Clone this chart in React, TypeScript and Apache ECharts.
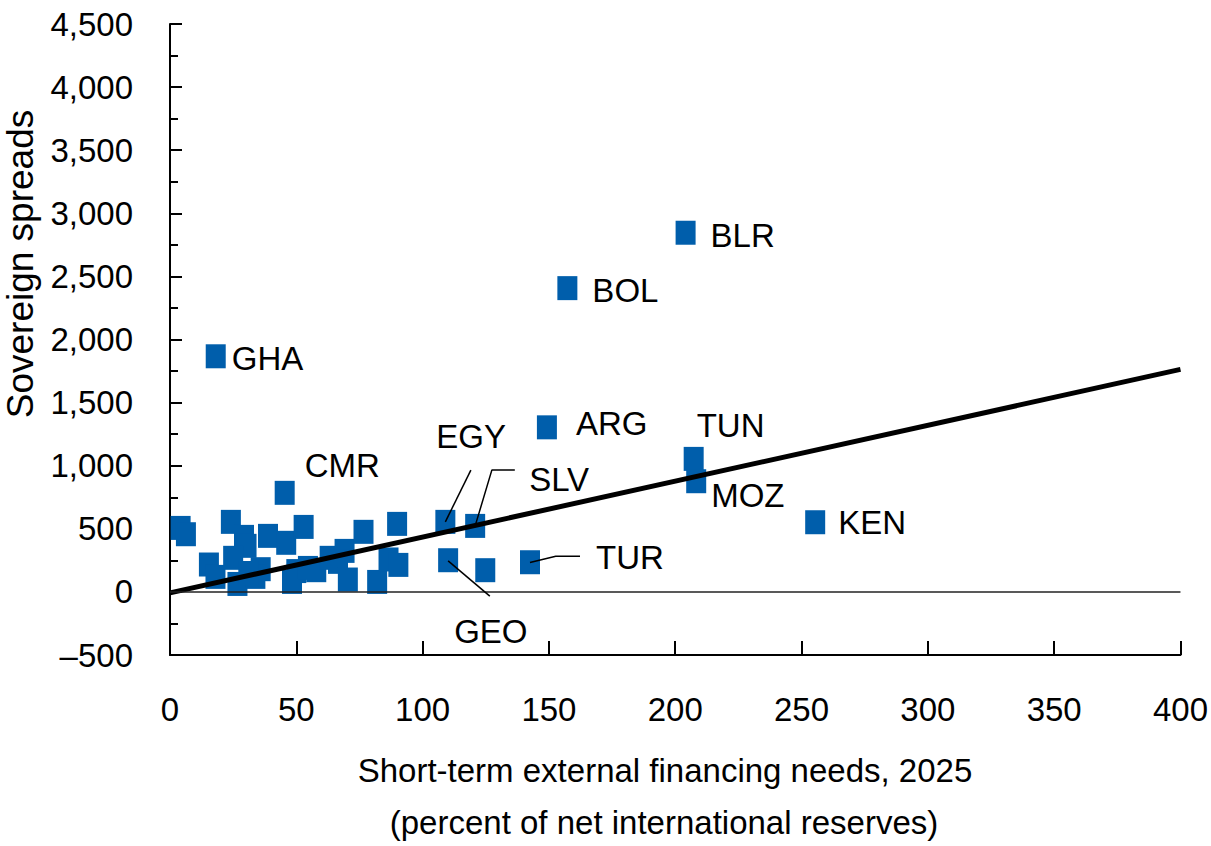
import React, { useEffect, useRef } from "react";
import * as echarts from "echarts";

// Labelled economies: code, short-term external financing needs (% of NIR), sovereign spread (bps)
const labeledCodes = ["BLR", "BOL", "GHA", "ARG", "TUN", "MOZ", "KEN", "CMR", "EGY", "SLV", "TUR", "GEO"];
const labeledNeeds = [204.1, 157.3, 18.1, 149.2, 207.3, 208.3, 255.4, 45.4, 109.0, 120.8, 142.5, 110.1];
const labeledSpreads = [2846, 2407, 1867, 1304, 1054, 877, 552, 785, 555, 523, 235, 251];

// Unlabelled economies
const otherNeeds = [4.2, 6.3, 24.1, 29.3, 30.3, 38.8, 46.0, 52.9, 15.4, 18.0, 25.0, 26.7, 35.9, 33.8, 31.0, 48.3, 50.0, 54.6, 57.9, 63.2, 69.1, 66.5, 70.4, 76.6, 82.0, 89.9, 86.5, 90.4, 124.8];
const otherSpreads = [507, 457, 555, 436, 365, 444, 389, 515, 217, 119, 270, 63, 180, 119, 150, 79, 165, 190, 172, 270, 325, 238, 98, 476, 79, 539, 257, 214, 172];

// Fitted line endpoints
const trendNeeds = [0, 400];
const trendSpreads = [-8, 1763];

// Leader lines (data coordinates)
const leaderEGY = [[109.0, 555], [119.1, 965]];
const leaderSLV = [[120.8, 523], [127.4, 965], [136.5, 965]];
const leaderGEO = [[110.1, 246], [126.6, -34]];
const leaderTUR = [[142.5, 233], [152.7, 283], [162.3, 283]];

const xTitle1 = "Short-term external financing needs, 2025";
const xTitle2 = "(percent of net international reserves)";
const yTitle = "Sovereign spreads";

// label placement (pixel offsets, style only)
const labelOffset: Record<string, [number, number]> = {
  BLR: [15, 3], BOL: [15, 2], GHA: [6, 2], ARG: [19, -4], TUN: [-7, -33], MOZ: [5, 14],
  KEN: [13, 0], CMR: [10, -27], EGY: [-19, -85], SLV: [44, -46], TUR: [56, -5], GEO: [-4, 71],
};

const FONT = "'Liberation Sans', Arial, sans-serif";
const FS = 33;
const BLUE = "#005EAB";

export default function App() {
  const ref = useRef<HTMLDivElement>(null);
  useEffect(() => {
    document.body.style.margin = "0";
    if (!ref.current) return;
    const chart = echarts.init(ref.current, undefined, { renderer: "svg" });
    const labeledData = labeledCodes.map((c, i) => ({
      value: [labeledNeeds[i], labeledSpreads[i]],
      name: c,
      label: {
        show: true,
        position: "right",
        distance: 0,
        offset: labelOffset[c],
        formatter: c,
        color: "#000",
        fontSize: FS,
        fontFamily: FONT,
      },
    }));
    const otherData = otherNeeds.map((x, i) => [x, otherSpreads[i]]);
    const leaderSeries = [leaderEGY, leaderSLV, leaderGEO, leaderTUR].map((d) => ({
      type: "line",
      data: d,
      symbol: "none",
      lineStyle: { color: "#000", width: 1.5 },
      z: 5,
      silent: true,
    }));
    chart.setOption({
      animation: false,
      backgroundColor: "#fff",
      grid: { left: 170, right: 28, top: 24, bottom: 191, containLabel: false },
      xAxis: {
        type: "value",
        min: 0,
        max: 400,
        interval: 50,
        axisLine: { show: true, onZero: false, lineStyle: { color: "#000", width: 2 } },
        axisTick: { show: true, inside: true, length: 14, lineStyle: { color: "#000", width: 2 } },
        splitLine: { show: false },
        axisLabel: { color: "#000", fontSize: FS, fontFamily: FONT, margin: 38 },
      },
      yAxis: {
        type: "value",
        min: -500,
        max: 4500,
        interval: 500,
        axisLine: { show: true, onZero: false, lineStyle: { color: "#000", width: 2 } },
        axisTick: { show: true, inside: true, length: 12, lineStyle: { color: "#000", width: 2 } },
        minorTick: { show: true, splitNumber: 2, length: 8, lineStyle: { color: "#000", width: 2 } },
        splitLine: { show: false },
        axisLabel: {
          color: "#000",
          fontSize: FS,
          fontFamily: FONT,
          margin: 37,
          formatter: (v: number) => (v < 0 ? "\u2013" : "") + Math.abs(v).toLocaleString("en-US"),
        },
      },
      graphic: [
        {
          type: "text",
          x: 20,
          y: 264,
          rotation: Math.PI / 2,
          style: { text: yTitle, fontSize: 37, fontFamily: FONT, fill: "#000", align: "center", verticalAlign: "middle" },
        },
        {
          type: "text",
          x: 665,
          y: 770,
          style: { text: xTitle1, fontSize: FS, fontFamily: FONT, fill: "#000", align: "center", verticalAlign: "middle" },
        },
        {
          type: "text",
          x: 664,
          y: 822,
          style: { text: xTitle2, fontSize: FS, fontFamily: FONT, fill: "#000", align: "center", verticalAlign: "middle" },
        },
      ],
      series: [
        {
          type: "scatter",
          data: otherData,
          symbol: "rect",
          symbolSize: [20, 24],
          itemStyle: { color: BLUE, opacity: 1 },
          z: 3,
          markLine: {
            silent: true,
            symbol: "none",
            label: { show: false },
            lineStyle: { color: "#222", width: 1.5, type: "solid" },
            data: [{ yAxis: 0 }],
          },
        },
        {
          type: "scatter",
          data: labeledData,
          symbol: "rect",
          symbolSize: [20, 24],
          itemStyle: { color: BLUE, opacity: 1 },
          z: 3,
        },
        {
          type: "line",
          data: trendNeeds.map((x, i) => [x, trendSpreads[i]]),
          symbol: "none",
          lineStyle: { color: "#000", width: 5 },
          z: 4,
          silent: true,
        },
        ...leaderSeries,
      ],
    });
    return () => chart.dispose();
  }, []);
  return <div ref={ref} style={{ width: 1211, height: 846 }} />;
}
